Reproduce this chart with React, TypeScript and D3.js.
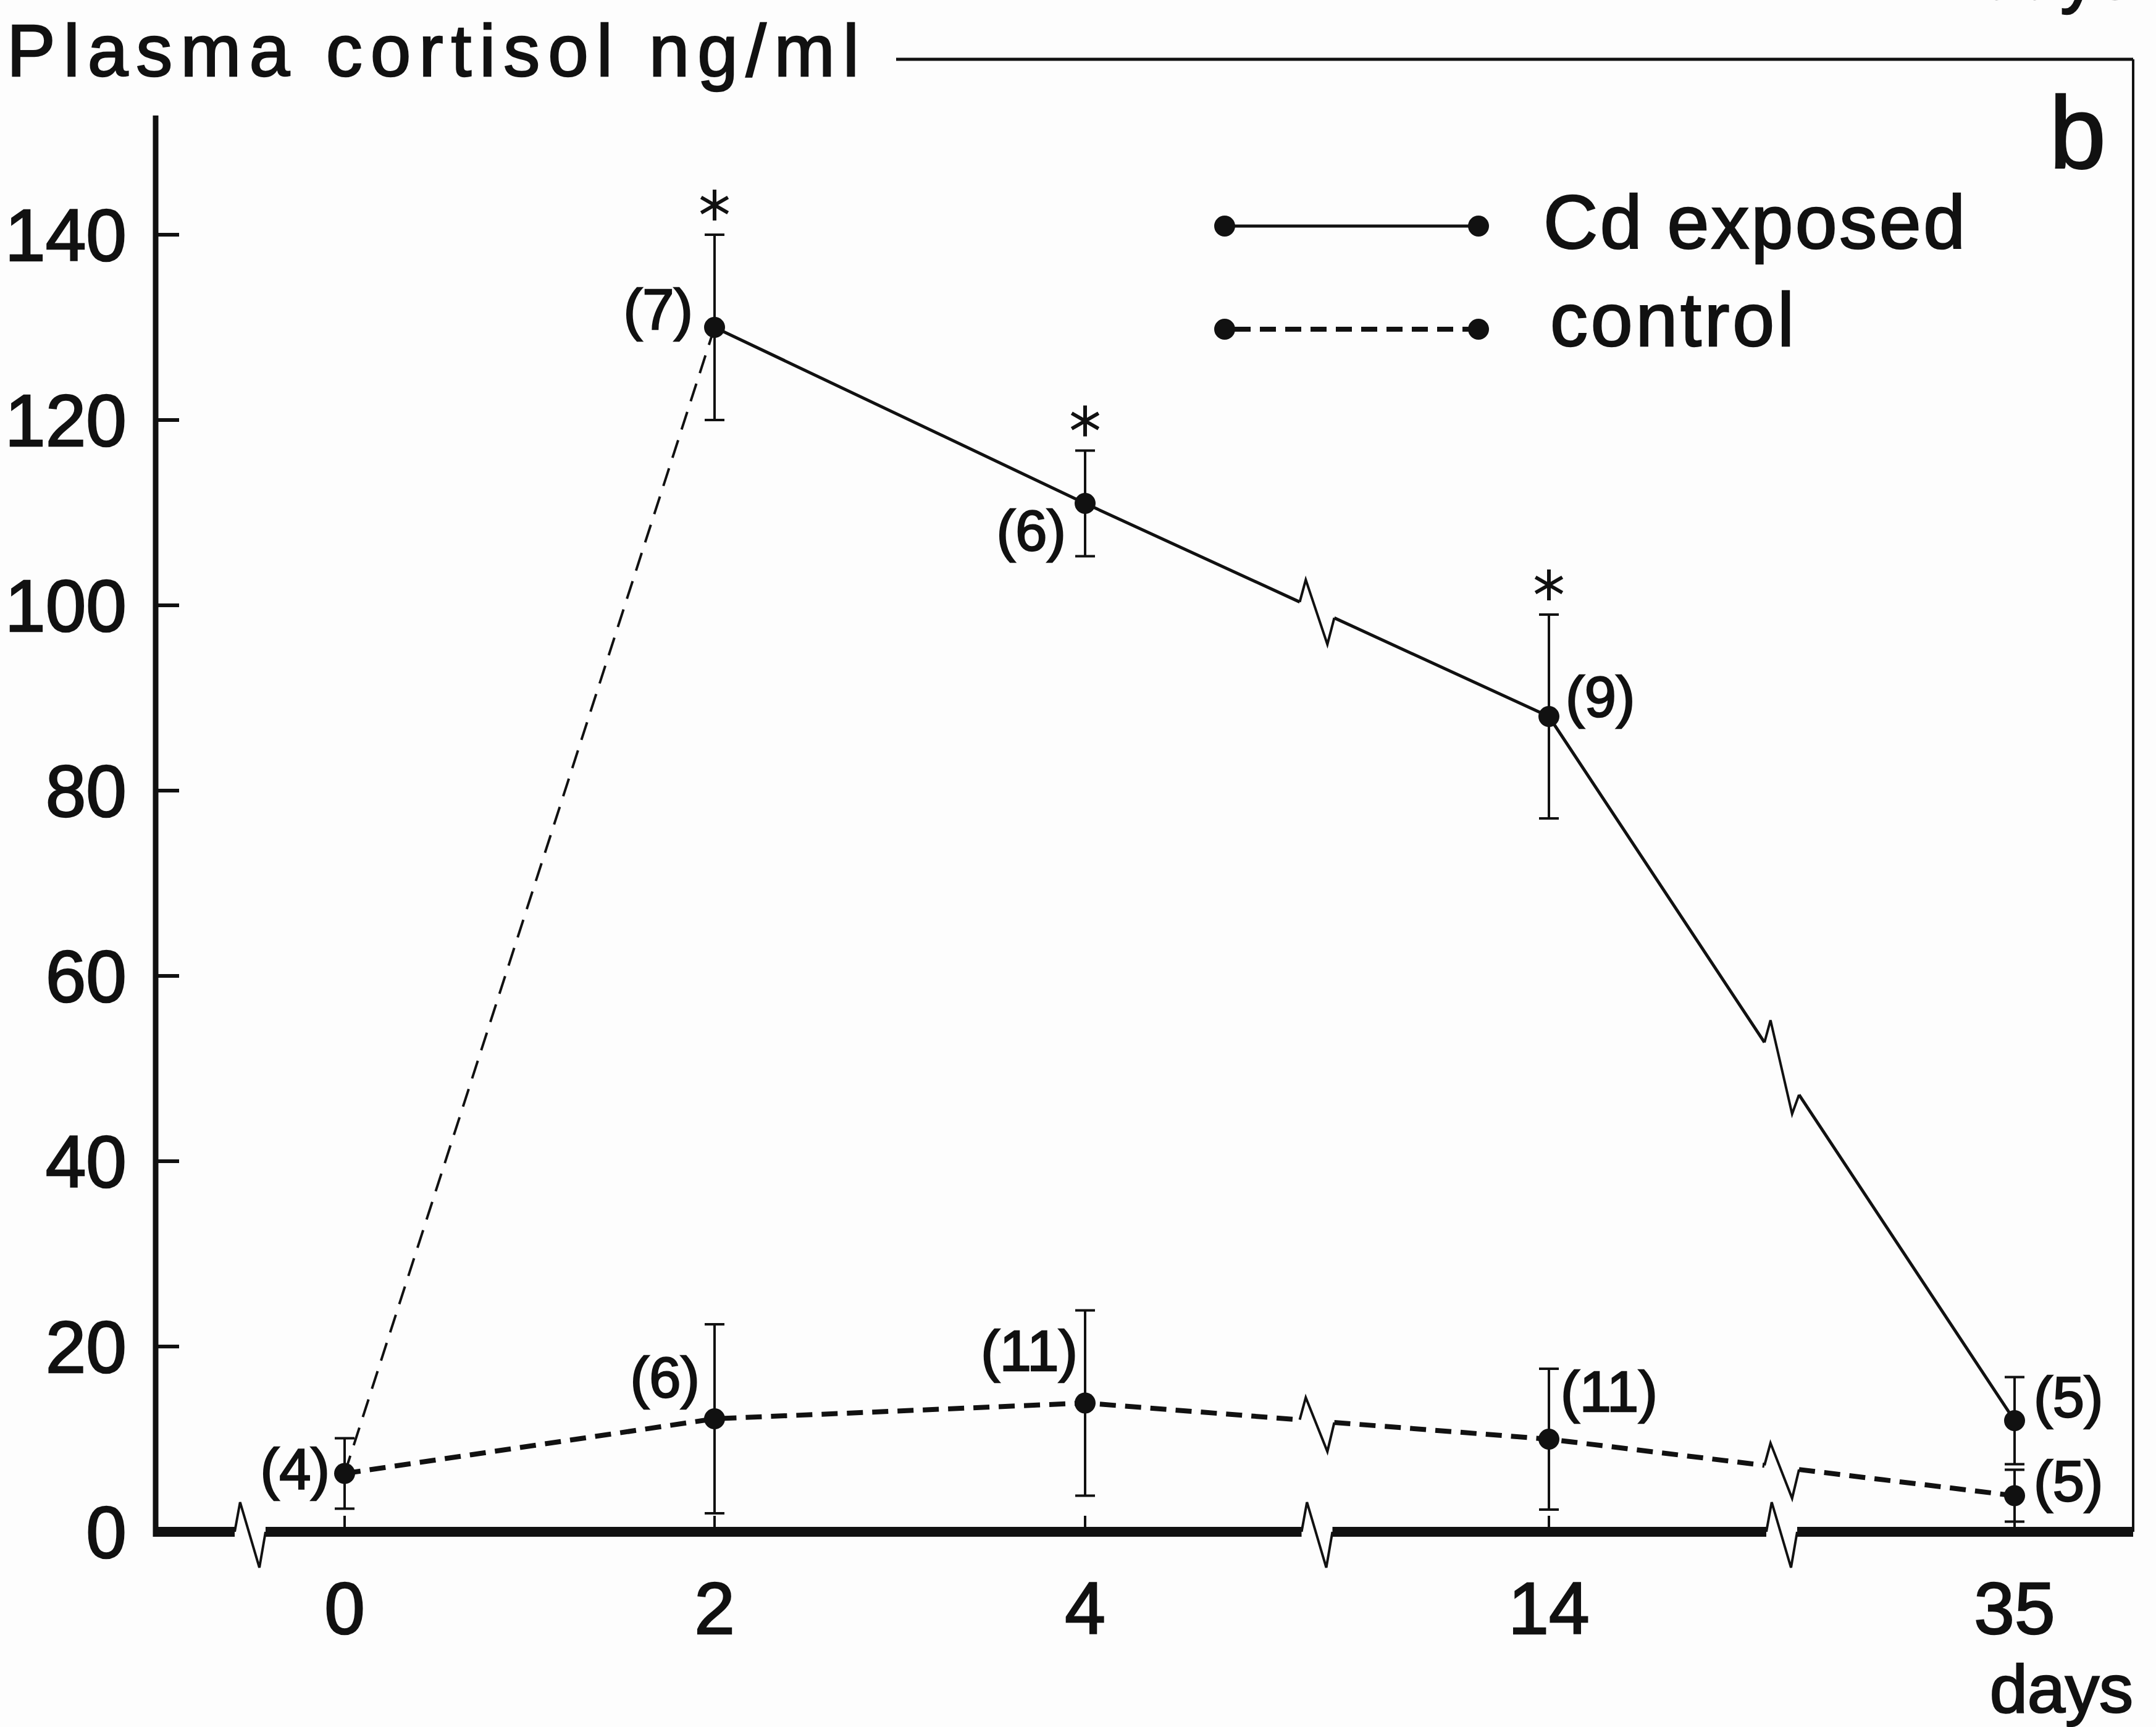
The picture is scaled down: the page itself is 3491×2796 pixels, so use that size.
import React from "react";
import * as d3 from "d3";

// days on the x axis (broken axis between 4-14 and 14-35)
const dayTicks = [0, 2, 4, 14, 35];
const dayTickLabels = ["0", "2", "4", "14", "35"];
const cortisolTicks = [0, 20, 40, 60, 80, 100, 120, 140];

// Cd exposed fish
const cdDays = [2, 4, 14, 35];
const cdMean = [130, 111, 88, 12];
const cdErr = [10, 5.7, 11, 4.7];
const cdN = ["(7)", "(6)", "(9)", "(5)"];
const cdStar = [true, true, true, false];

// controls
const ctrlDays = [0, 2, 4, 14, 35];
const ctrlMean = [6.3, 12.2, 13.9, 10, 3.9];
const ctrlErr = [3.8, 10.2, 10, 7.6, 2.8];
const ctrlN = ["(4)", "(6)", "(11)", "(11)", "(5)"];

const axisBreaks = [-0.5, 9, 24.5];
const lineBreaks = [9, 24.5];

// label layout (not data)
const cdLabelPos = [
  { anchor: "end", dx: -35, dy: -21 },
  { anchor: "end", dx: -31, dy: 52 },
  { anchor: "start", dx: 27, dy: -24 },
  { anchor: "start", dx: 31, dy: -30 },
];
const ctrlLabelPos = [
  { anchor: "end", dx: -24, dy: 0 },
  { anchor: "end", dx: -24, dy: -59 },
  { anchor: "end", dx: -12, dy: -77 },
  { anchor: "start", dx: 19, dy: -69 },
  { anchor: "start", dx: 31, dy: -16 },
];

const W = 3491, H = 2796;
const FONT = "'Liberation Sans', Arial, sans-serif";
const frameRight = 3454;
const frameTop = 96;

const x = d3.scaleLinear()
  .domain([-1, 0, 2, 4, 14, 35])
  .range([252, 558, 1157, 1757, 2508, 3262]);
const y = d3.scaleLinear().domain([0, 140]).range([2480, 380]);

type Pt = [number, number];

// split a polyline at the break positions, returning straight pieces and zigzag glyphs
function brokenLine(pts: Pt[], breaks: number[], up: number, down: number, half: number) {
  const pieces: Pt[][] = [];
  const zigs: Pt[][] = [];
  let cur: Pt[] = [pts[0]];
  for (let i = 1; i < pts.length; i++) {
    const [x1, y1] = pts[i - 1];
    const [x2, y2] = pts[i];
    const yAt = (xx: number) => y1 + ((xx - x1) / (x2 - x1)) * (y2 - y1);
    breaks.map(b => x(b)).filter(bx => bx > x1 && bx < x2).forEach(bx => {
      const xl = bx - half, xr = bx + half;
      cur.push([xl, yAt(xl)]);
      pieces.push(cur);
      zigs.push([
        [xl, yAt(xl)],
        [xl + half * 0.35, yAt(xl) - up],
        [xr - half * 0.4, yAt(xr - half * 0.4) + down],
        [xr, yAt(xr)],
      ]);
      cur = [[xr, yAt(xr)]];
    });
    cur.push([x2, y2]);
  }
  pieces.push(cur);
  return { pieces, zigs };
}

const line = d3.line<Pt>();

function Asterisk({ cx, cy }: { cx: number; cy: number }) {
  const r = 25;
  const d = [90, 30, 150].map(a => {
    const rad = (a * Math.PI) / 180;
    const dx = Math.cos(rad) * r, dy = Math.sin(rad) * r;
    return `M${cx - dx},${cy - dy}L${cx + dx},${cy + dy}`;
  }).join("");
  return <path d={d} stroke="#111" strokeWidth={6} fill="none" />;
}

function ErrorBar({ cx, m, e }: { cx: number; m: number; e: number }) {
  const top = y(m + e), bot = y(m - e);
  return (
    <g stroke="#111" strokeWidth={4}>
      <line x1={cx} x2={cx} y1={top} y2={bot} />
      <line x1={cx - 16} x2={cx + 16} y1={top} y2={top} />
      <line x1={cx - 16} x2={cx + 16} y1={bot} y2={bot} />
    </g>
  );
}

export default function App() {
  const cdPts: Pt[] = cdDays.map((d, i) => [x(d), y(cdMean[i])]);
  const ctrlPts: Pt[] = ctrlDays.map((d, i) => [x(d), y(ctrlMean[i])]);
  const cd = brokenLine(cdPts, lineBreaks, 36, 48, 28);
  const ctrl = brokenLine(ctrlPts, lineBreaks, 36, 48, 28);
  const axisY = y(0);
  const axis = brokenLine([[x(-1), axisY], [frameRight, axisY]], axisBreaks, 48, 58, 25);

  return (
    <svg width={W} height={H} style={{ position: "absolute", left: 0, top: 0, background: "#fdfdfd" }}
      fontFamily={FONT} fill="#111">
      <style>{"text { stroke: #111; stroke-width: 2.5px; }"}</style>
      {/* cut-off label of the previous panel, as in the scan */}
      <text x={frameRight} y={-2} fontSize={118} textAnchor="end">days</text>

      {/* y axis title and frame */}
      <text x={11} y={123} fontSize={118} textLength={1380} lengthAdjust="spacing">Plasma cortisol ng/ml</text>
      <line x1={1451} x2={frameRight} y1={frameTop} y2={frameTop} stroke="#111" strokeWidth={5} />
      <line x1={frameRight} x2={frameRight} y1={frameTop} y2={axisY} stroke="#111" strokeWidth={4} />
      <text x={3410} y={272} fontSize={165} textAnchor="end">b</text>

      {/* y axis */}
      <line x1={x(-1)} x2={x(-1)} y1={187} y2={axisY + 8} stroke="#111" strokeWidth={9} />
      {cortisolTicks.map(t => (
        <g key={t}>
          <line x1={x(-1)} x2={x(-1) + 38} y1={y(t)} y2={y(t)} stroke="#111" strokeWidth={6} />
          <text x={205} y={y(t) + 42} fontSize={118} textAnchor="end">{t}</text>
        </g>
      ))}

      {/* x axis with breaks */}
      {axis.pieces.map((p, i) => (
        <path key={i} d={line(p) || ""} stroke="#111" strokeWidth={16} fill="none" />
      ))}
      {axis.zigs.map((z, i) => (
        <path key={i} d={line(z) || ""} stroke="#111" strokeWidth={4} fill="none" strokeLinejoin="miter" />
      ))}
      {dayTicks.map((d, i) => (
        <g key={d}>
          <line x1={x(d)} x2={x(d)} y1={axisY} y2={axisY - 26} stroke="#111" strokeWidth={4} />
          <text x={x(d)} y={2645} fontSize={118} textAnchor="middle">{dayTickLabels[i]}</text>
        </g>
      ))}
      <text x={frameRight} y={2772} fontSize={110} textAnchor="end">days</text>

      {/* Cd exposed: dashed link from pre-exposure level */}
      <path d={line([ctrlPts[0], cdPts[0]]) || ""} stroke="#111" strokeWidth={4} strokeDasharray="30 18" fill="none" />
      {cd.pieces.map((p, i) => (
        <path key={i} d={line(p) || ""} stroke="#111" strokeWidth={5} fill="none" />
      ))}
      {cd.zigs.map((z, i) => (
        <path key={i} d={line(z) || ""} stroke="#111" strokeWidth={4} fill="none" />
      ))}

      {/* control */}
      {ctrl.pieces.map((p, i) => (
        <path key={i} d={line(p) || ""} stroke="#111" strokeWidth={8} strokeDasharray="26 15" fill="none" />
      ))}
      {ctrl.zigs.map((z, i) => (
        <path key={i} d={line(z) || ""} stroke="#111" strokeWidth={4} fill="none" />
      ))}

      {/* error bars, points, labels */}
      {cdDays.map((d, i) => (
        <g key={"cd" + d}>
          <ErrorBar cx={x(d)} m={cdMean[i]} e={cdErr[i]} />
          <circle cx={x(d)} cy={y(cdMean[i])} r={17} />
          {cdStar[i] && <Asterisk cx={x(d)} cy={y(cdMean[i] + cdErr[i]) - 48} />}
          <text x={x(d) + cdLabelPos[i].dx} y={y(cdMean[i]) + cdLabelPos[i].dy + 24}
            fontSize={92} textAnchor={cdLabelPos[i].anchor}>{cdN[i]}</text>
        </g>
      ))}
      {ctrlDays.map((d, i) => (
        <g key={"ct" + d}>
          <ErrorBar cx={x(d)} m={ctrlMean[i]} e={ctrlErr[i]} />
          <circle cx={x(d)} cy={y(ctrlMean[i])} r={17} />
          <text x={x(d) + ctrlLabelPos[i].dx} y={y(ctrlMean[i]) + ctrlLabelPos[i].dy + 24}
            fontSize={92} textAnchor={ctrlLabelPos[i].anchor}>{ctrlN[i]}</text>
        </g>
      ))}

      {/* legend */}
      <g>
        <line x1={1983} x2={2394} y1={366} y2={366} stroke="#111" strokeWidth={5} />
        <circle cx={1983} cy={366} r={17} />
        <circle cx={2394} cy={366} r={17} />
        <text x={2499} y={402} fontSize={122} textLength={683} lengthAdjust="spacing">Cd exposed</text>
        <line x1={1999} x2={2378} y1={533} y2={533} stroke="#111" strokeWidth={8} strokeDasharray="26 15" />
        <circle cx={1983} cy={533} r={17} />
        <circle cx={2394} cy={533} r={17} />
        <text x={2510} y={560} fontSize={122} textLength={395} lengthAdjust="spacing">control</text>
      </g>
    </svg>
  );
}
